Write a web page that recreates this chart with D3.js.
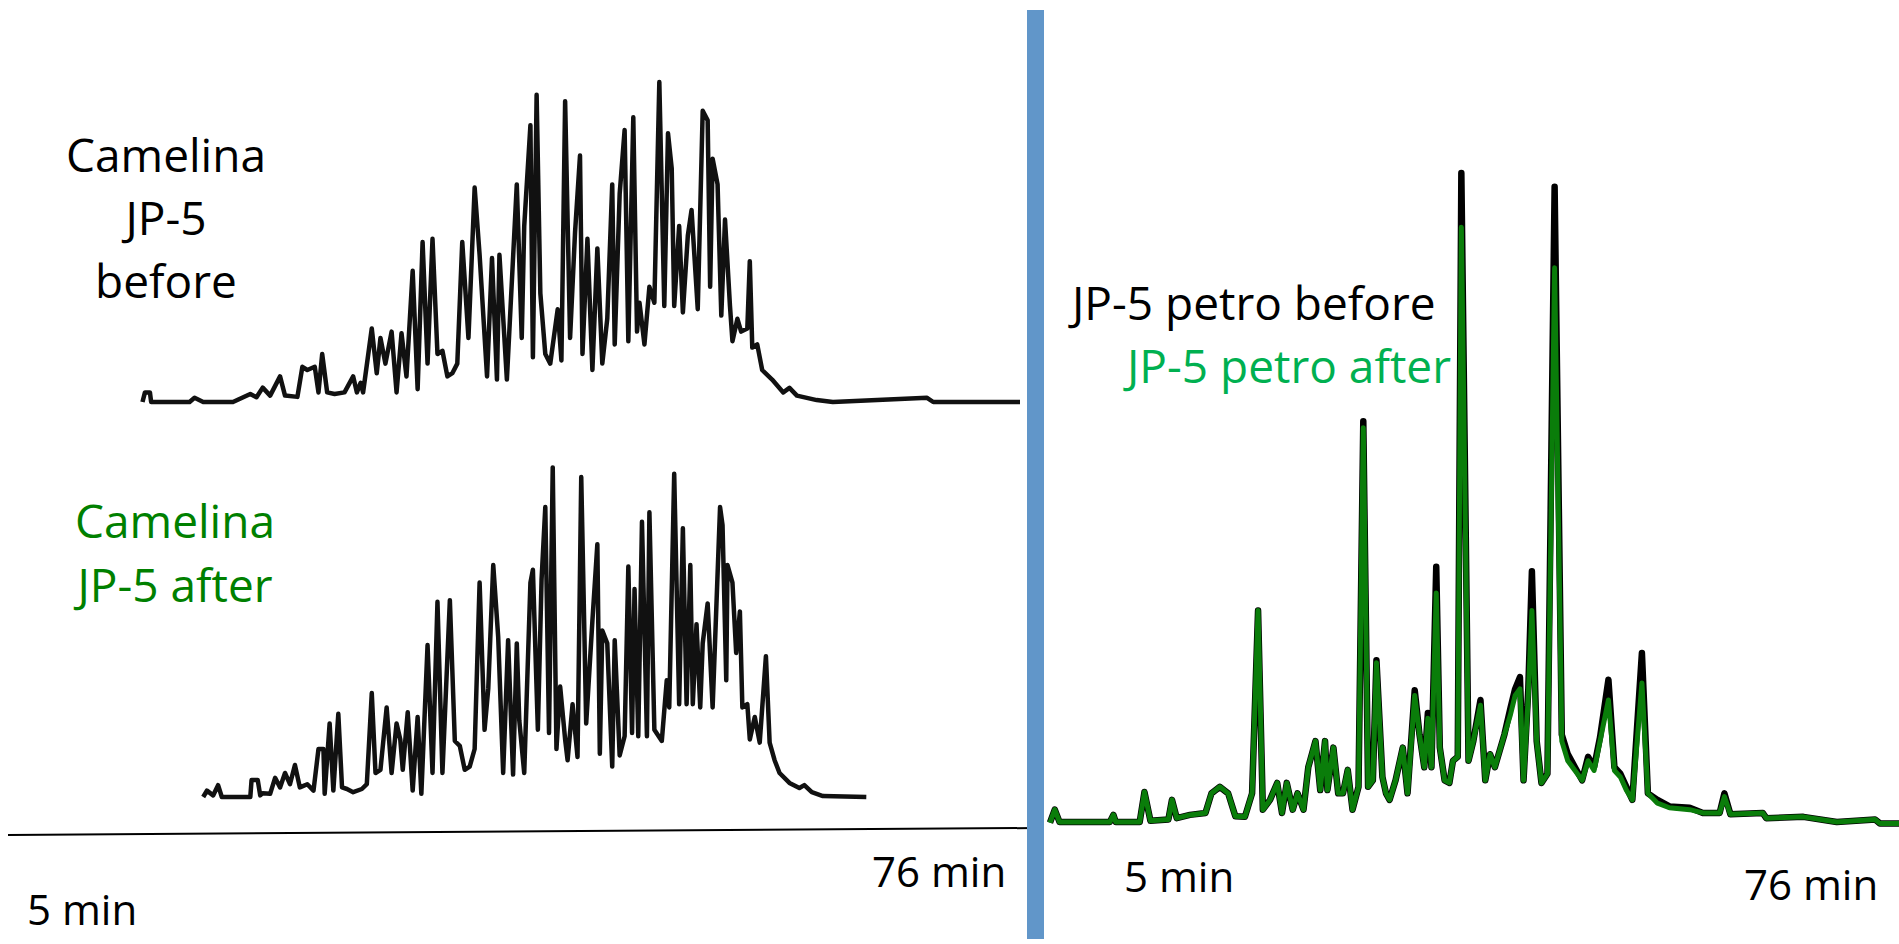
<!DOCTYPE html>
<html>
<head>
<meta charset="utf-8">
<script src="https://cdn.jsdelivr.net/npm/d3@7"></script>
<style>
  body { margin: 0; background: #fff; }
  text { font-family: "Open Sans", sans-serif; }
</style>
</head>
<body>
<svg id="chart" width="1899" height="944"></svg>
<script>
// Camelina JP-5, before (retention time in min, signal in % of tallest peak)
const camBeforeTimes = [5.2, 5.4, 5.8, 5.9, 6.9, 9.0, 9.4, 10.1, 12.5, 13.9, 14.4, 14.9, 15.5, 16.3, 16.7, 17.7,
  18.1, 18.5, 19.1, 19.4, 19.7, 20.1, 20.7, 21.5, 22.2, 22.5, 22.8, 23.0, 23.7, 24.1, 24.4, 24.8, 25.3, 25.7,
  26.1, 26.5, 27.0, 27.4, 27.8, 28.2, 28.6, 29.0, 29.4, 29.8, 30.2, 30.6, 31.0, 31.5, 32.0, 32.4, 33.0, 33.4,
  33.8, 34.0, 34.6, 35.4, 35.8, 36.0, 36.5, 36.7, 37.0, 37.3, 37.7, 38.1, 38.7, 39.0, 39.3, 39.7, 40.1, 40.5,
  40.7, 41.1, 41.5, 41.9, 42.3, 42.7, 43.1, 43.3, 43.7, 44.1, 44.4, 44.8, 45.1, 45.3, 45.7, 46.1, 46.5, 46.9,
  47.3, 47.6, 47.9, 48.1, 48.5, 48.8, 49.2, 49.5, 50.0, 50.4, 50.8, 51.0, 51.2, 51.6, 51.9, 52.2, 52.6, 52.8,
  53.2, 53.5, 54.0, 54.2, 54.4, 54.8, 55.2, 56.0, 56.9, 57.4, 58.0, 59.6, 60.9, 68.5, 69.0, 76.0];
const camBeforeSignal = [0, 3, 3, 0, 0, 0, 1.3, 0, 0, 2.5, 1.5, 4.5, 2, 8, 2, 1.6,
  11, 10, 11, 3, 15, 3, 2.5, 3, 8, 3, 6, 3, 23, 9, 20, 12, 22, 3,
  21.5, 8, 41, 4, 50, 12, 51, 15, 16, 8, 9, 12, 50, 20, 67, 46, 8, 45,
  7, 46, 7, 68, 20, 55, 86.5, 14, 96, 34, 15, 12, 29, 13, 94, 20, 53, 77,
  15, 51, 10, 48, 12, 26, 68, 18, 65, 85, 19, 89, 22, 31, 18, 36, 31, 100,
  30, 84, 73, 30, 55, 28, 52, 60, 29, 91, 88, 36, 76, 68, 27, 57, 30, 19,
  26, 22, 23, 44, 17, 18, 10, 7, 3, 4.4, 2, 0.6, 0, 1.3, 0, 0];

// Camelina JP-5, after
const camAfterTimes = [10.1, 10.4, 10.9, 11.3, 11.6, 13.9, 14.0, 14.5, 14.7, 14.9, 15.5, 15.9, 16.3, 16.7,
  17.1, 17.5, 17.9, 18.5, 19.0, 19.4, 19.8, 19.9, 20.3, 20.6, 21.0, 21.3, 21.7, 22.2, 22.9, 23.3, 23.7, 24.0,
  24.4, 24.9, 25.3, 25.7, 26.0, 26.2, 26.6, 27.0, 27.4, 27.7, 28.2, 28.6, 29.0, 29.4, 30.0, 30.4, 30.8, 31.2,
  31.6, 32.0, 32.4, 32.8, 33.1, 33.5, 33.9, 34.3, 34.7, 35.1, 35.4, 35.6, 36.0, 36.5, 36.7, 37.1, 37.4, 37.7,
  38.0, 38.3, 38.6, 38.9, 39.3, 39.5, 39.9, 40.3, 40.6, 41.0, 41.5, 41.9, 42.1, 42.3, 42.7, 43.1, 43.3, 43.7,
  44.1, 44.4, 44.7, 44.9, 45.2, 45.5, 45.9, 46.1, 46.5, 47.1, 47.5, 47.7, 48.1, 48.5, 48.8, 49.1, 49.4, 49.6,
  49.9, 50.2, 50.4, 50.8, 51.2, 51.8, 52.0, 52.3, 52.4, 52.8, 53.1, 53.4, 53.6, 54.0, 54.2, 54.6, 55.0, 55.5,
  55.8, 56.2, 56.6, 57.4, 58.2, 58.6, 59.2, 60.1, 63.6];
const camAfterSignal = [0, 2, 0.5, 3.7, 0, 0, 5.3, 5.3, 0.5, 1.2, 1, 6, 3, 7.5,
  4, 10, 3, 4, 2, 15, 15, 1, 23, 2, 26, 3, 2.5, 1.5, 2.5, 4, 32.5, 7.5,
  8.5, 28, 7.5, 23, 18, 8.5, 26.5, 2, 25, 1, 47.5, 7.5, 61, 7.5, 61.5, 17.5, 16, 8.5,
  9.5, 15, 67, 21, 34, 72.5, 50, 7.5, 49, 7, 48, 24, 7.5, 67, 71, 21, 68, 90.6,
  20, 103, 15, 34.5, 18, 11.5, 29, 12.5, 100, 23, 55, 79, 13.5, 52, 48, 9.5, 49, 13,
  19, 72, 20, 65, 19, 86, 19, 89, 21, 17.5, 36.5, 28, 101, 29, 84, 29, 72.5, 29,
  54, 28, 48, 60.5, 28, 90.6, 85, 36.5, 72.5, 67, 45, 58, 28, 29, 18, 25, 17, 44,
  17, 11.5, 7.5, 4.4, 2.8, 3.7, 1.5, 0.3, 0];

// JP-5 petro, before and after (shared retention times)
const petroTimes = [5.0, 5.4, 5.8, 10.0, 10.3, 10.5, 12.5, 12.9, 13.4, 14.9, 15.2, 15.6, 16.7, 18.0, 18.5,
  19.2, 19.9, 20.5, 21.3, 21.9, 22.4, 22.8, 23.4, 24.0, 24.4, 24.8, 25.3, 25.7, 26.2, 26.6, 27.2, 27.6, 28.0,
  28.2, 28.7, 29.1, 29.5, 29.9, 30.3, 30.8, 31.2, 31.6, 32.0, 32.3, 32.8, 33.1, 33.4, 33.9, 34.5, 34.9, 35.5,
  35.9, 36.3, 36.6, 36.9, 37.3, 37.6, 38.0, 38.4, 38.7, 39.1, 39.4, 40.0, 40.4, 41.0, 41.4, 41.8, 42.2, 43.0,
  43.5, 43.9, 44.3, 44.6, 45.0, 45.3, 45.7, 46.1, 46.6, 47.2, 47.8, 48.3, 48.9, 49.5, 50.0, 50.5, 51.0, 51.7,
  52.2, 52.7, 53.2, 53.7, 54.5, 55.0, 55.8, 56.8, 58.5, 59.6, 61.0, 61.4, 61.9, 64.6, 64.9, 68.0, 70.8, 74.0,
  74.4, 76.0];
const petroBefore = [0.5, 2.5, 0.6, 0.6, 1.7, 0.6, 0.6, 5.2, 0.8, 1, 4, 1.2, 1.7, 2, 5,
  6, 5, 1.5, 1.4, 5, 33, 2.5, 4, 6.6, 2, 6.6, 2.5, 5, 2.5, 9, 13, 5.5, 13,
  5.5, 12, 5, 5, 8.6, 2.5, 6, 62, 6, 7, 25.4, 7.5, 5, 4, 7, 12, 5, 20.8,
  14, 9, 17.3, 9, 39.7, 12, 7, 6.6, 10, 10.6, 100, 10, 13, 19.3, 7, 11, 9, 14,
  18, 21, 22.8, 7, 21, 39, 13, 6.6, 8, 97.9, 14, 11, 9, 7, 10.6, 9, 13.6, 22.4,
  9, 8, 6, 4, 26.5, 5, 4, 3, 2.8, 2, 2, 5, 1.8, 2, 1.2, 1.4, 0.6, 1,
  0.4, 0.4];
const petroAfter = [0.5, 2.5, 0.6, 0.6, 1.7, 0.6, 0.6, 5.2, 0.8, 1, 4, 1.2, 1.7, 2, 5,
  6, 5, 1.5, 1.4, 5, 33, 2.5, 4, 6.6, 2, 6.6, 2.5, 5, 2.5, 9, 13, 5.5, 13,
  5.5, 12, 5, 5, 8.6, 2.5, 6, 61, 6, 7, 25, 7.5, 5, 4, 7, 12, 5, 20,
  14, 9, 16.5, 9, 35.7, 12, 7, 6.6, 10, 10.6, 91.7, 10, 13, 18.5, 7, 11, 9, 14,
  17, 20, 21, 7, 20, 33, 13, 6.6, 8, 85.5, 13, 10, 8.5, 7, 10, 8.5, 13, 19.3,
  8.5, 7.5, 5.5, 4, 21.9, 5, 3.5, 2.8, 2.5, 2, 2, 4.5, 1.8, 2, 1.2, 1.4, 0.6, 1,
  0.4, 0.4];

const timeLabels = ["5 min", "76 min"];

const svg = d3.select("#chart");

const xLeft = d3.scaleLinear().domain([5, 76]).range([140, 1020]);
const xRight = d3.scaleLinear().domain([5, 76]).range([1050, 1899]);
const yTop = d3.scaleLinear().domain([0, 100]).range([402, 82]);
const yBottom = d3.scaleLinear().domain([0, 100]).range([797, 477]);
const yRight = d3.scaleLinear().domain([0, 100]).range([826, 173]);

svg.append("rect")
  .attr("width", 1899)
  .attr("height", 944)
  .attr("fill", "#fff");

function drawTrace(times, values, x, y, color, width) {
  const line = d3.line()
    .x((d, i) => x(times[i]))
    .y(d => y(d));
  svg.append("path")
    .datum(values)
    .attr("d", line)
    .attr("fill", "none")
    .attr("stroke", color)
    .attr("stroke-width", width)
    .attr("stroke-linejoin", "round");
}

// left panel: camelina
drawTrace(camBeforeTimes, camBeforeSignal, xLeft, yTop, "#111", 4.5);
drawTrace(camAfterTimes, camAfterSignal, xLeft, yBottom, "#111", 4.5);

svg.append("line")
  .attr("x1", 8).attr("y1", 835)
  .attr("x2", 1035).attr("y2", 828)
  .attr("stroke", "#000")
  .attr("stroke-width", 2);

// right panel: petro (green drawn over black)
drawTrace(petroTimes, petroBefore, xRight, yRight, "#000", 6.5);
drawTrace(petroTimes, petroAfter, xRight, yRight, "#0a7d0a", 5);

// divider
svg.append("rect")
  .attr("x", 1027)
  .attr("y", 10)
  .attr("width", 17)
  .attr("height", 929)
  .attr("fill", "#6196c9");

// labels
const label = (x, y, txt, color, size, anchor) =>
  svg.append("text")
    .attr("x", x)
    .attr("y", y)
    .attr("fill", color)
    .attr("font-size", size)
    .attr("text-anchor", anchor || "start")
    .text(txt);

label(166, 172, "Camelina", "#000", 46, "middle");
label(166, 235, "JP-5", "#000", 46, "middle");
label(166, 298, "before", "#000", 46, "middle");

label(175, 538, "Camelina", "#008000", 46, "middle");
label(175, 602, "JP-5 after", "#008000", 46, "middle");

label(1072, 320, "JP-5 petro before", "#000", 46);
label(1127, 383, "JP-5 petro after", "#00b050", 46);

label(27, 925, timeLabels[0], "#000", 42);
label(872, 887, timeLabels[1], "#000", 42);
label(1124, 892, timeLabels[0], "#000", 42);
label(1744, 900, timeLabels[1], "#000", 42);
</script>
</body>
</html>
